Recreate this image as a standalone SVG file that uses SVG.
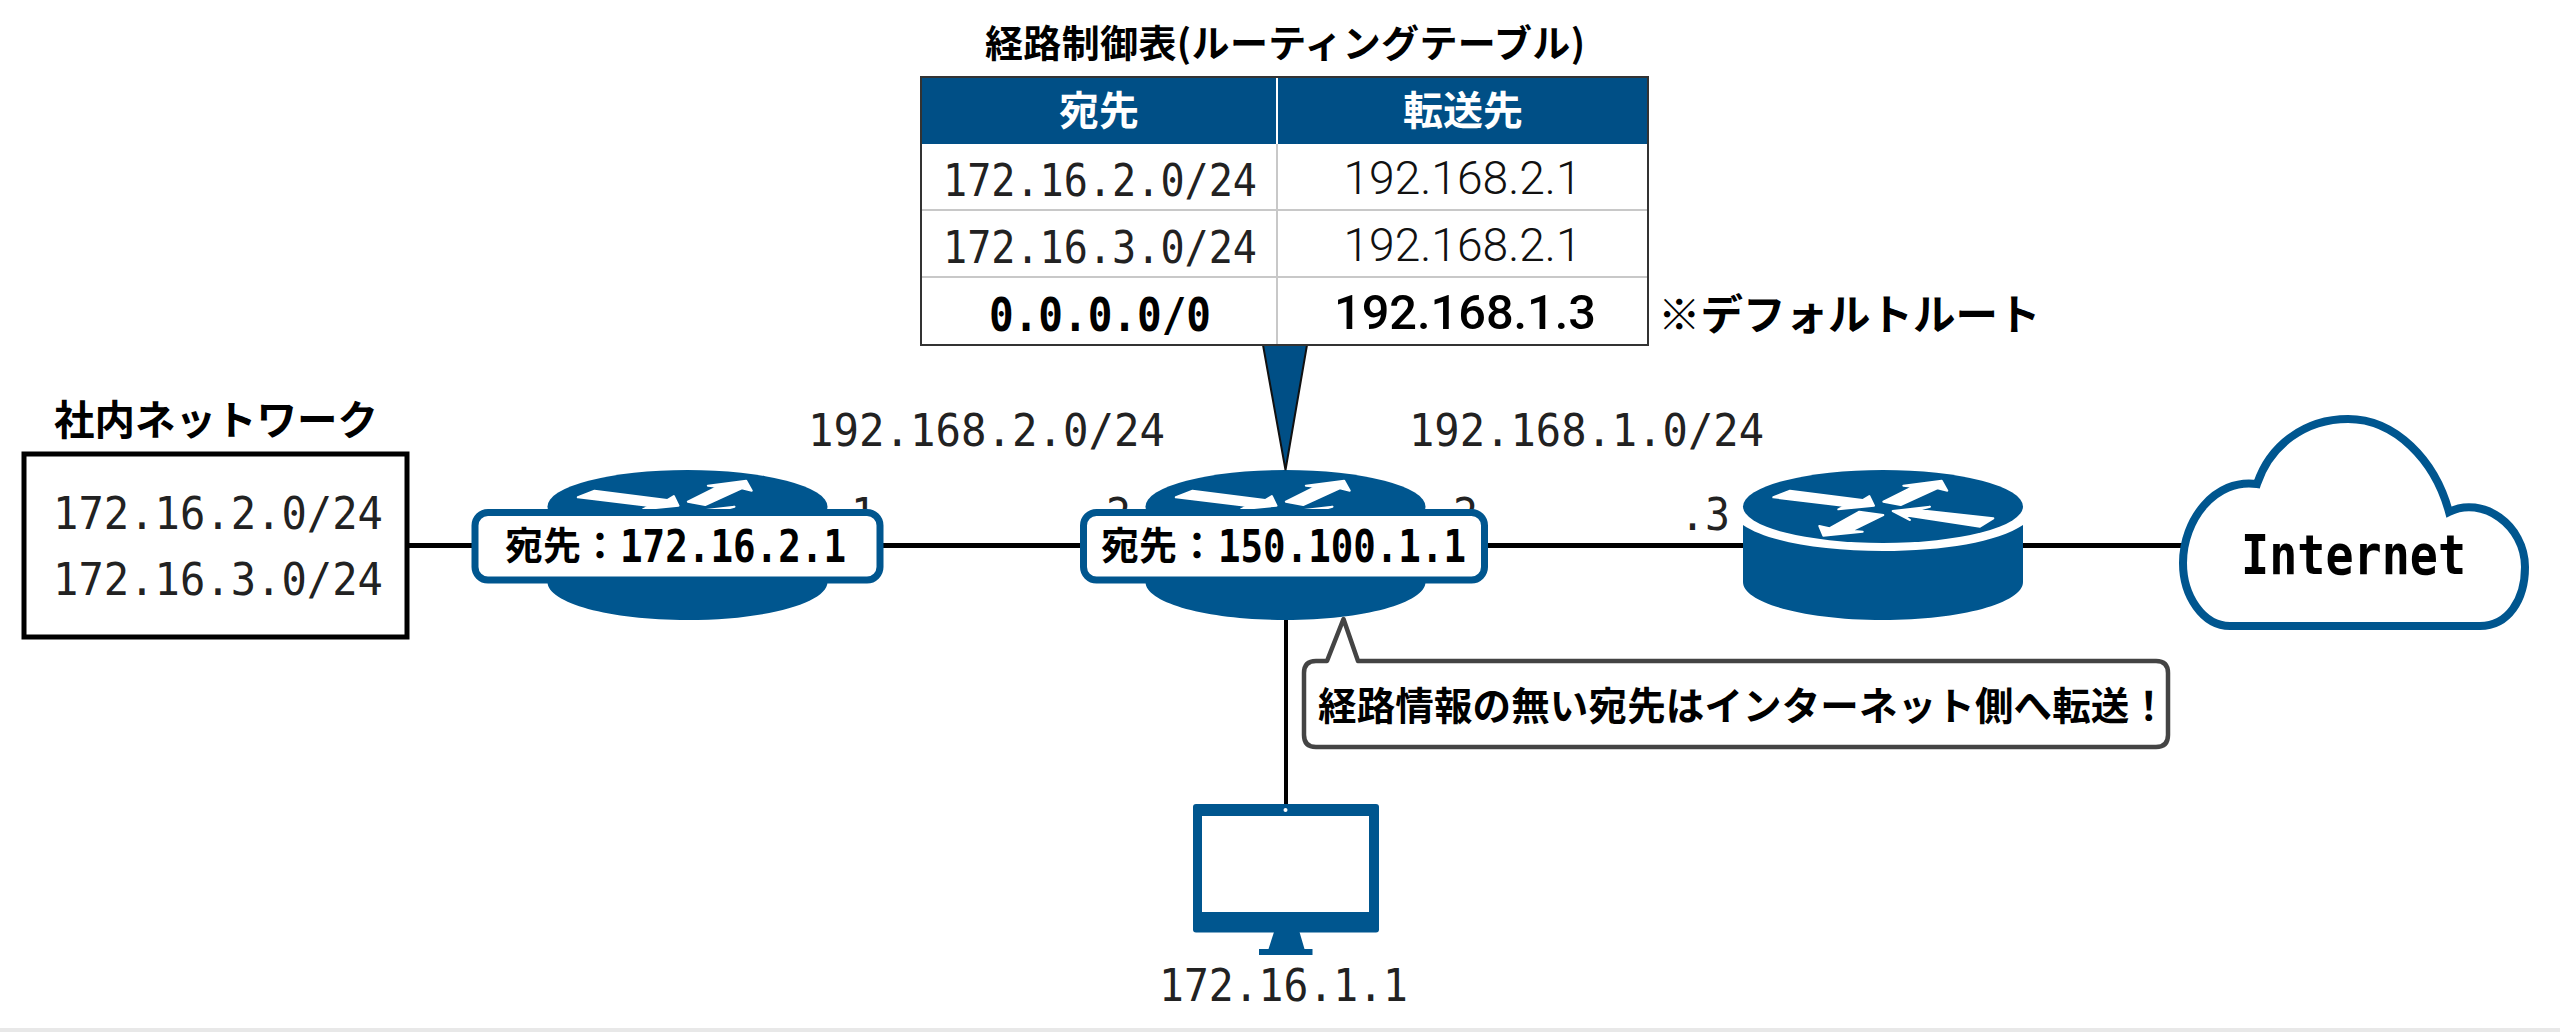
<svg xmlns="http://www.w3.org/2000/svg" width="2560" height="1032" viewBox="0 0 2560 1032">
<style>
.m{font-family:"DejaVu Sans Mono","Liberation Mono",monospace;font-size:45px;fill:#222}
.mb{font-family:"DejaVu Sans Mono","Liberation Mono",monospace;font-size:44px;font-weight:700;fill:#000}
.j{font-family:"Noto Sans CJK JP","Noto Sans",sans-serif;font-weight:700;fill:#000}
.p{font-family:Roboto,"Liberation Sans",sans-serif;font-size:46px;font-weight:300;fill:#111;text-anchor:middle}
.pb{font-family:Roboto,"Liberation Sans",sans-serif;font-size:48px;font-weight:500;fill:#000;text-anchor:middle}
.lab{fill:#fff;stroke:#00568f;stroke-width:7}
.conn{stroke:#000;stroke-width:5;fill:none}
.gr{stroke:#c8c8c8;stroke-width:2;fill:none}
.blue{fill:#00568f}
.w{fill:#fff}
.arrow{fill:#fff;stroke:#fff;stroke-width:2;stroke-linejoin:round}
</style>
<defs>
<g id="router-icon">
<rect class="w" x="-140" y="506" width="280" height="50"/>
<ellipse class="blue" cx="0" cy="506.500" rx="140" ry="36.500"/>
<path class="blue" d="M-140 525 C-115 542 -60 551 0 551 C60 551 115 542 140 525 V582 C140 603 78 620 0 620 C-78 620 -140 603 -140 582Z"/>
<polygon class="arrow" points="-109.700,497.300 -93,490.700 -20.300,500 -13.700,496 -9,505.700 -44.700,509.300 -38,506"/>
<polygon class="arrow" points="0.300,501.700 30.300,486.700 20.300,485.700 58.700,480.700 64.300,490.700 54.300,488.300 17.700,505"/>
<polygon class="arrow" points="-23.700,511.700 0.300,515 -31.300,530.700 -20.300,531.700 -59.700,535.700 -63.700,526 -53.700,528.300"/>
<polygon class="arrow" points="110.300,518.300 97,526.700 20.300,515 27,520 9.700,511 47,506.700 35.300,510"/>
</g>
</defs>
<rect width="2560" height="1032" fill="#fff"/>
<rect x="0" y="1028" width="2560" height="4" fill="#e8e8e8"/>
<g id="connectors">
<line class="conn" x1="406" y1="545.500" x2="2184" y2="545.500"/>
<line class="conn" x1="1286" y1="620" x2="1286" y2="806" style="stroke-width:4"/>
</g>
<g id="network-box">
<text class="j" x="54" y="435" font-size="40.500">社内ネットワーク</text>
<rect x="24" y="454" width="383" height="183" fill="#fff" stroke="#000" stroke-width="5"/>
<text class="m" x="53" y="529" textLength="330" lengthAdjust="spacingAndGlyphs">172.16.2.0/24</text>
<text class="m" x="53" y="595" textLength="330" lengthAdjust="spacingAndGlyphs">172.16.3.0/24</text>
</g>
<g id="subnet-labels">
<text class="m" x="808" y="446" textLength="357" lengthAdjust="spacingAndGlyphs">192.168.2.0/24</text>
<text class="m" x="1409" y="446" textLength="355" lengthAdjust="spacingAndGlyphs">192.168.1.0/24</text>
<text class="m" x="826" y="530" textLength="50" lengthAdjust="spacingAndGlyphs">.1</text>
<text class="m" x="1081" y="530" textLength="50" lengthAdjust="spacingAndGlyphs">.2</text>
<text class="m" x="1428" y="530" textLength="50" lengthAdjust="spacingAndGlyphs">.2</text>
<text class="m" x="1680" y="530" textLength="50" lengthAdjust="spacingAndGlyphs">.3</text>
</g>
<g id="router-1"><use href="#router-icon" x="687.500"/></g>
<g id="router-2"><use href="#router-icon" x="1285.500"/></g>
<g id="router-3"><use href="#router-icon" x="1883"/></g>
<g id="packet-label-1">
<rect class="lab" x="475" y="512.500" width="405" height="67.500" rx="13"/>
<text class="j" x="505" y="559" font-size="38">宛先</text>
<text class="j" x="581" y="559" font-size="38">：</text>
<text class="mb" x="620" y="561.500" textLength="226" lengthAdjust="spacingAndGlyphs">172.16.2.1</text>
</g>
<g id="packet-label-2">
<rect class="lab" x="1083.500" y="512.500" width="401" height="67.500" rx="13"/>
<text class="j" x="1101" y="559" font-size="38">宛先</text>
<text class="j" x="1178" y="559" font-size="38">：</text>
<text class="mb" x="1218" y="561.500" textLength="248" lengthAdjust="spacingAndGlyphs">150.100.1.1</text>
</g>
<g id="routing-table">
<text class="j" x="985" y="57" font-size="38" textLength="600">経路制御表(ルーティングテーブル)</text>
<polygon points="1263,345 1307,345 1285.500,470" fill="#004f86" stroke="#111" stroke-width="2"/>
<rect x="921" y="77" width="727" height="268" fill="#fff"/>
<rect x="921" y="77" width="727" height="67" fill="#004f86"/>
<line x1="1277" y1="77" x2="1277" y2="144" stroke="#fff" stroke-width="2"/>
<line class="gr" x1="1277" y1="144" x2="1277" y2="345"/>
<line class="gr" x1="921" y1="210" x2="1648" y2="210"/>
<line class="gr" x1="921" y1="277" x2="1648" y2="277"/>
<rect x="921" y="77" width="727" height="268" fill="none" stroke="#333" stroke-width="2"/>
<text class="j" x="1099" y="125" font-size="40" text-anchor="middle" style="fill:#fff">宛先</text>
<text class="j" x="1463" y="125" font-size="40" text-anchor="middle" style="fill:#fff">転送先</text>
<text class="m" x="943" y="196" textLength="314" lengthAdjust="spacingAndGlyphs">172.16.2.0/24</text>
<text class="m" x="943" y="263" textLength="314" lengthAdjust="spacingAndGlyphs">172.16.3.0/24</text>
<text class="mb" x="989" y="331" textLength="222" lengthAdjust="spacingAndGlyphs" style="font-size:46px">0.0.0.0/0</text>
<text class="p" x="1462.500" y="194" textLength="238" lengthAdjust="spacingAndGlyphs">192.168.2.1</text>
<text class="p" x="1462.500" y="261" textLength="238" lengthAdjust="spacingAndGlyphs">192.168.2.1</text>
<text class="pb" x="1465" y="329" textLength="262" lengthAdjust="spacingAndGlyphs">192.168.1.3</text>
<text class="j" x="1658" y="330" font-size="42.500">※デフォルトルート</text>
</g>
<g id="callout">
<path d="M1327 661 L1343.500 619 L1358 661 H2156 Q2168 661 2168 673 V735 Q2168 747 2156 747 H1316 Q1304 747 1304 735 V673 Q1304 661 1316 661Z" fill="#fff" stroke="#444" stroke-width="4.500" stroke-linejoin="round"/>
<text class="j" x="1318" y="720" font-size="38.500" textLength="850">経路情報の無い宛先はインターネット側へ転送！</text>
</g>
<g id="pc">
<rect class="blue" x="1193" y="804" width="186" height="128.500" rx="3"/>
<rect class="w" x="1202" y="816" width="167" height="96"/>
<circle class="w" cx="1285.500" cy="810" r="2"/>
<path class="blue" d="M1274 932 H1299.500 L1304.500 949 H1312.500 V955 H1259 V949 H1268.500Z"/>
<text class="m" x="1159" y="1001" textLength="249" lengthAdjust="spacingAndGlyphs">172.16.1.1</text>
</g>
<g id="internet">
<path d="M2230 626 C2203 626 2183 596 2183 563 C2183 520 2215 478 2257 484 C2270 445 2305 419 2348 419 C2395 419 2435 460 2449 512 C2482 495 2525 525 2525 567 C2525 600 2508 626 2480 626Z" fill="#fff" stroke="#00568f" stroke-width="8" stroke-linejoin="miter"/>
<text class="mb" x="2241" y="574" style="font-size:56px" textLength="225" lengthAdjust="spacingAndGlyphs">Internet</text>
</g>
</svg>
